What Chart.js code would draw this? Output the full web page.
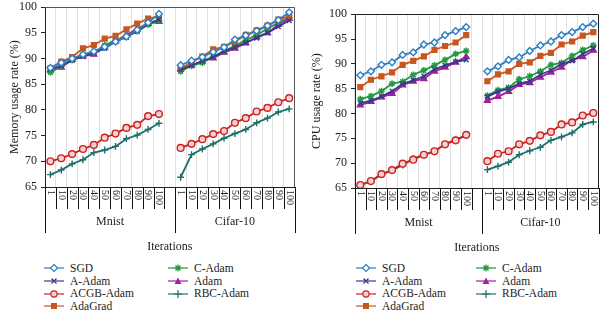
<!DOCTYPE html>
<html>
<head>
<meta charset="utf-8">
<script src="https://cdn.jsdelivr.net/npm/chart.js@4"></script>
<style>
    html, body { margin: 0; padding: 0; background: #fff; }
    body { width: 604px; height: 310px; position: relative; overflow: hidden; font-family: 'Liberation Serif', 'DejaVu Serif', serif; }
    .panel { position: absolute; }
    .legend { position: absolute; left: 0; top: 0; font-family: 'Liberation Serif', 'DejaVu Serif', serif; font-size: 11.5px; color: #222; }
    .item { position: absolute; white-space: nowrap; height: 13px; line-height: 13px; }
    .item svg { position: absolute; left: 0; top: 1.5px; }
    .item span { position: absolute; top: 0; font-family: 'Liberation Serif', serif; }
</style>
</head>
<body>
<canvas id="memChart" class="panel" width="300" height="262" style="left:0;top:-4px;"></canvas>
<canvas id="cpuChart" class="panel" width="304" height="255" style="left:300px;top:3px;"></canvas>
<div id="legends"></div>

<script>
// Categories: two datasets, 11 iteration steps each (one empty slot after Mnist)
const groups = ['Mnist', 'Cifar-10'];
const iterations = ['1', '10', '20', '30', '40', '50', '60', '70', '80', '90', '100'];
const seriesNames = ['SGD', 'A-Adam', 'ACGB-Adam', 'AdaGrad', 'C-Adam', 'Adam', 'RBC-Adam'];
const yTicks = [65, 70, 75, 80, 85, 90, 95, 100];

// Memory usage rate (%) - first 11 values Mnist, last 11 Cifar-10
const memSGD     = [88.2, 89.2, 90.0, 90.8, 91.4, 92.3, 93.3, 94.3, 95.6, 97.0, 98.7,  88.7, 89.6, 90.3, 91.3, 92.2, 93.7, 94.5, 95.4, 96.4, 97.5, 99.0];
const memAAdam   = [88.0, 88.6, 89.7, 90.4, 91.1, 92.0, 93.3, 94.2, 95.4, 96.8, 97.6,  87.8, 88.7, 89.5, 90.3, 91.4, 92.2, 93.1, 94.0, 95.0, 96.2, 97.4];
const memACGB    = [70.0, 70.6, 71.4, 72.4, 73.2, 74.6, 75.4, 76.5, 77.1, 78.8, 79.2,  72.6, 73.4, 74.3, 75.3, 75.9, 77.5, 78.4, 79.7, 80.4, 81.5, 82.3];
const memAdaGrad = [88.1, 89.4, 90.3, 92.0, 92.6, 93.9, 94.4, 95.7, 96.8, 97.8, 98.2,  88.0, 89.3, 90.4, 91.8, 92.3, 93.3, 94.6, 95.5, 96.4, 97.6, 98.2];
const memCAdam   = [87.3, 88.5, 89.7, 90.7, 91.2, 92.6, 93.6, 94.2, 95.3, 96.6, 97.4,  87.5, 88.6, 89.2, 90.4, 91.4, 92.5, 93.6, 94.6, 95.8, 97.0, 98.0];
const memAdam    = [87.8, 88.3, 89.8, 90.5, 90.8, 92.2, 93.4, 94.6, 95.8, 96.8, 97.2,  88.0, 88.7, 89.5, 90.1, 91.2, 92.0, 93.0, 94.2, 95.0, 96.6, 97.8];
const memRBC     = [67.4, 68.3, 69.5, 70.3, 71.7, 72.2, 72.9, 74.4, 75.1, 76.2, 77.4,  66.9, 71.3, 72.4, 73.4, 74.5, 75.4, 76.2, 77.5, 78.4, 79.6, 80.2];

// CPU usage rate (%) - first 11 values Mnist, last 11 Cifar-10
const cpuSGD     = [87.7, 88.5, 89.8, 90.3, 91.8, 92.3, 93.9, 94.3, 95.8, 96.6, 97.4,  88.5, 89.5, 90.8, 91.3, 92.6, 93.7, 94.5, 95.8, 96.4, 97.4, 98.1];
const cpuAAdam   = [82.1, 82.6, 83.4, 84.5, 86.0, 86.7, 87.5, 88.9, 89.7, 90.4, 90.8,  83.4, 84.4, 85.0, 86.0, 86.5, 87.8, 88.7, 90.0, 90.6, 92.0, 93.1];
const cpuACGB    = [65.6, 66.4, 67.8, 68.6, 69.9, 70.7, 71.7, 72.4, 73.8, 74.6, 75.7,  70.4, 71.9, 72.4, 73.8, 74.5, 75.6, 76.3, 77.8, 78.2, 79.6, 80.1];
const cpuAdaGrad = [85.3, 86.8, 87.5, 88.3, 89.8, 90.6, 91.5, 92.8, 93.6, 94.3, 95.8,  86.5, 87.9, 88.5, 90.0, 90.3, 91.6, 92.2, 93.9, 94.5, 95.7, 96.4];
const cpuCAdam   = [82.9, 83.5, 84.5, 86.0, 86.4, 87.8, 88.7, 89.7, 90.8, 92.0, 92.6,  83.6, 84.7, 85.2, 86.9, 87.5, 88.5, 89.8, 90.2, 91.6, 92.8, 93.7];
const cpuAdam    = [81.7, 82.4, 83.3, 84.0, 85.7, 86.5, 87.0, 88.5, 89.3, 90.3, 91.4,  82.6, 83.4, 84.4, 85.8, 86.2, 87.3, 88.3, 89.3, 90.8, 91.4, 92.7];
const cpuRBC     = [65.6, 66.3, 67.7, 68.6, 69.6, 70.9, 71.7, 72.3, 73.9, 74.7, 75.6,  68.7, 69.4, 70.2, 71.7, 72.5, 73.2, 74.6, 75.3, 76.1, 77.8, 78.3];

// Styles for each series (same order as seriesNames)
const seriesColors = ['#2f7fc1', '#3a3a8c', '#cc2222', '#c8561e', '#1f9a3c', '#a3209c', '#1f6e6a'];
const seriesPoints = ['rectRot', 'crossRot', 'circle', 'rect', 'star', 'triangle', 'cross'];
const seriesFills  = ['#ffffff', '#3a3a8c', '#f4d0d0', '#c8561e', '#1f9a3c', '#a3209c', '#1f6e6a'];

// Build the 23 slot labels: Mnist (11) + empty + Cifar-10 (11)
const slotLabels = [...iterations, '', ...iterations];
const groupStart = iterations.length + 1;

function toSlots(values) {
    const n = iterations.length;
    return [...values.slice(0, n), null, ...values.slice(n)];
}

// Draws box, multi-level category labels and axis title below the plot
const axisDecor = {
    id: 'axisDecor',
    afterDraw(chart, args, opts) {
        const { ctx, chartArea: ca, scales: { x } } = chart;
        const step = x.getPixelForValue(1) - x.getPixelForValue(0);
        ctx.save();

        // top and right frame
        ctx.strokeStyle = opts.boxColor;
        ctx.lineWidth = 1;
        ctx.beginPath();
        ctx.moveTo(ca.left, Math.round(ca.top) + 0.5);
        ctx.lineTo(Math.round(ca.right) - 0.5, Math.round(ca.top) + 0.5);
        ctx.lineTo(Math.round(ca.right) - 0.5, ca.bottom);
        ctx.stroke();

        // separators between labels and groups
        ctx.strokeStyle = '#111';
        ctx.beginPath();
        for (let b = 0; b <= slotLabels.length; b++) {
            const px = Math.round(x.getPixelForValue(b) - step / 2) + 0.5;
            const isGroup = b === 0 || b === groupStart || b === slotLabels.length;
            ctx.moveTo(px, ca.bottom);
            ctx.lineTo(px, ca.bottom + (isGroup ? 46 : 22));
        }
        ctx.stroke();

        // rotated iteration labels
        ctx.fillStyle = '#222';
        ctx.font = '10px "Liberation Serif"';
        ctx.textAlign = 'left';
        ctx.textBaseline = 'middle';
        slotLabels.forEach((label, i) => {
            if (!label) return;
            ctx.save();
            ctx.translate(x.getPixelForValue(i), ca.bottom + 3);
            ctx.rotate(Math.PI / 2);
            ctx.fillText(label, 0, 0);
            ctx.restore();
        });

        // group names
        ctx.font = '12px "Liberation Serif"';
        ctx.textAlign = 'center';
        const mnistMid = x.getPixelForValue(groupStart / 2 - 0.5);
        const cifarMid = x.getPixelForValue((groupStart + slotLabels.length - 1) / 2);
        ctx.fillText(groups[0], mnistMid, ca.bottom + 35);
        ctx.fillText(groups[1], cifarMid, ca.bottom + 35);

        // axis title
        ctx.fillText('Iterations', (ca.left + ca.right) / 2, ca.bottom + 60);
        ctx.restore();
    }
};

function makeChart(canvasId, allValues, cfg) {
    const datasets = seriesNames.map((name, i) => ({
        label: name,
        data: toSlots(allValues[i]),
        borderColor: seriesColors[i],
        backgroundColor: seriesFills[i],
        pointStyle: seriesPoints[i],
        pointRadius: 3.4,
        pointBorderWidth: 1.4,
        borderWidth: 1.8,
        spanGaps: false,
        tension: 0
    }));

    return new Chart(document.getElementById(canvasId), {
        type: 'line',
        data: { labels: slotLabels, datasets: datasets },
        plugins: [axisDecor],
        options: {
            responsive: false,
            animation: false,
            layout: { padding: { top: 8, right: cfg.padRight, left: 0, bottom: 0 } },
            plugins: {
                legend: { display: false },
                tooltip: { enabled: false },
                axisDecor: { boxColor: cfg.boxColor }
            },
            scales: {
                x: {
                    type: 'category',
                    offset: true,
                    ticks: { display: false },
                    grid: { offset: true, color: '#e0e0e0', drawTicks: false },
                    border: { color: '#222', width: 1 },
                    afterFit: scale => { scale.height = cfg.xHeight; }
                },
                y: {
                    min: yTicks[0],
                    max: yTicks[yTicks.length - 1],
                    afterBuildTicks: scale => { scale.ticks = yTicks.map(v => ({ value: v })); },
                    ticks: { color: '#222', padding: 4, font: { family: 'Liberation Serif', size: 12 } },
                    grid: { drawOnChartArea: false, drawTicks: true, tickLength: 4, tickColor: '#222' },
                    border: { color: '#222', width: 1 },
                    title: {
                        display: true,
                        text: cfg.yTitle,
                        color: '#222',
                        padding: { top: cfg.titlePad, bottom: 0 },
                        font: { family: 'Liberation Serif', size: 12 }
                    },
                    afterFit: scale => { scale.width = cfg.yWidth; }
                }
            }
        }
    });
}

makeChart('memChart',
    [memSGD, memAAdam, memACGB, memAdaGrad, memCAdam, memAdam, memRBC],
    { yTitle: 'Memory usage rate (%)', yWidth: 45, xHeight: 71, padRight: 3, titlePad: 8, boxColor: '#555' });

makeChart('cpuChart',
    [cpuSGD, cpuAAdam, cpuACGB, cpuAdaGrad, cpuCAdam, cpuAdam, cpuRBC],
    { yTitle: 'CPU usage rate (%)', yWidth: 55, xHeight: 70, padRight: 1, titlePad: 10, boxColor: '#222' });

// HTML legends (two columns, column-major)
function markerSvg(i) {
    const c = seriesColors[i];
    const f = seriesFills[i];
    let m = '';
    switch (seriesPoints[i]) {
        case 'rectRot': m = `<polygon points="10,1.5 13.5,5 10,8.5 6.5,5" fill="${f}" stroke="${c}" stroke-width="1.2"/>`; break;
        case 'crossRot': m = `<path d="M7.5,2.5L12.5,7.5M12.5,2.5L7.5,7.5" stroke="${c}" stroke-width="1.3"/>`; break;
        case 'circle': m = `<circle cx="10" cy="5" r="3.2" fill="${f}" stroke="${c}" stroke-width="1.2"/>`; break;
        case 'rect': m = `<rect x="7" y="2" width="6" height="6" fill="${f}"/>`; break;
        case 'star': m = `<path d="M10,1.5V8.5M6.5,5H13.5M7.5,2.5L12.5,7.5M12.5,2.5L7.5,7.5" stroke="${c}" stroke-width="1.2"/>`; break;
        case 'triangle': m = `<polygon points="10,1.5 13.5,8 6.5,8" fill="${f}"/>`; break;
        case 'cross': m = `<path d="M10,1V9M6,5H14" stroke="${c}" stroke-width="1.2"/>`; break;
    }
    return `<svg width="20" height="10" viewBox="0 0 20 10"><line x1="0" y1="5" x2="20" y2="5" stroke="${c}" stroke-width="1.2"/>${m}</svg>`;
}

function buildLegend(cols) {
    const rows = [268, 281, 293.5, 306];
    const perCol = 4;
    return seriesNames.map((name, i) => {
        const col = Math.floor(i / perCol);
        const row = i % perCol;
        const cx = cols[col];
        return `<div class="item" style="left:${cx.marker}px;top:${rows[row] - 6.5}px;">` +
            markerSvg(i) +
            `<span style="left:${cx.text - cx.marker}px;">${name}</span></div>`;
    }).join('');
}

document.getElementById('legends').innerHTML =
    '<div class="legend">' +
    buildLegend([{ marker: 44, text: 70 }, { marker: 168, text: 194 }]) +
    buildLegend([{ marker: 356, text: 382 }, { marker: 476, text: 502 }]) +
    '</div>';
</script>
</body>
</html>
